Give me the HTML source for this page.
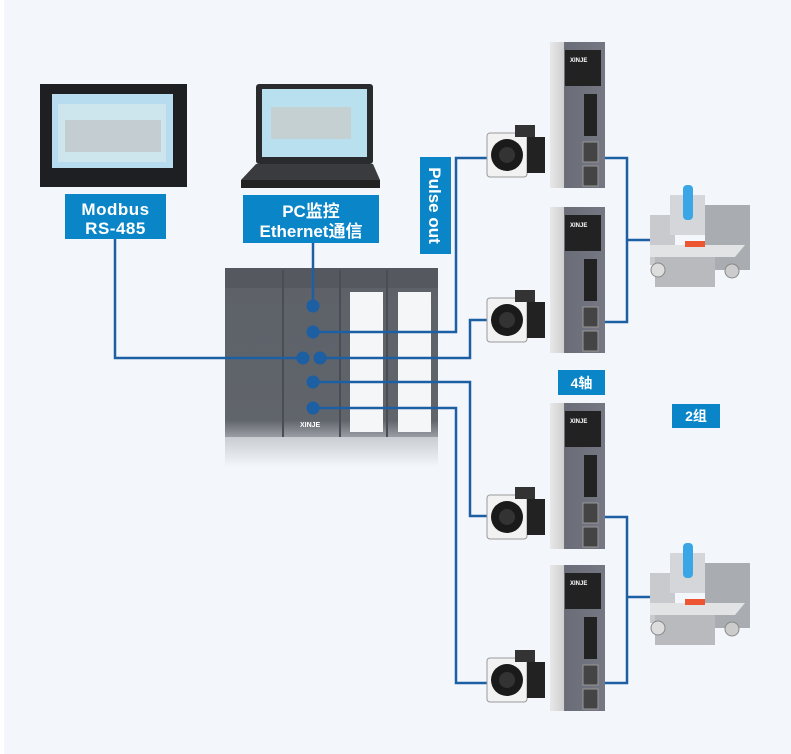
<!DOCTYPE html>
<html><head><meta charset="utf-8"><style>
body{margin:0;background:#fff}
svg{display:block}
text{font-family:"Liberation Sans","Noto Sans CJK SC",sans-serif;font-weight:bold;fill:#fff}
</style></head><body>
<svg width="791" height="754" viewBox="0 0 791 754" xmlns="http://www.w3.org/2000/svg">
<defs>
<linearGradient id="plc" x1="0" y1="0" x2="0" y2="1"><stop offset="0" stop-color="#5d6168"/><stop offset="0.9" stop-color="#60646b"/><stop offset="1" stop-color="#9a9ea4"/></linearGradient>
<linearGradient id="refl" x1="0" y1="0" x2="0" y2="1"><stop offset="0" stop-color="#c9ccd1"/><stop offset="1" stop-color="#f3f7fb"/></linearGradient>
<linearGradient id="drv" x1="0" y1="0" x2="1" y2="0"><stop offset="0" stop-color="#e8e8e8"/><stop offset="0.25" stop-color="#d0d0d0"/><stop offset="0.26" stop-color="#6a6c78"/><stop offset="1" stop-color="#757783"/></linearGradient>
<g id="motor">
<rect x="0" y="8" width="40" height="44" rx="3" fill="#f2f2f2" stroke="#999"/>
<circle cx="20" cy="30" r="16" fill="#1a1a1a"/><circle cx="20" cy="30" r="8" fill="#333"/>
<rect x="40" y="12" width="18" height="36" fill="#222"/>
<rect x="28" y="0" width="20" height="12" fill="#333"/>
</g>
<g id="drive">
<rect x="0" y="0" width="55" height="146" fill="url(#drv)"/>
<rect x="15" y="8" width="36" height="36" fill="#222"/>
<text x="20" y="20" font-size="6">XINJE</text>
<rect x="34" y="52" width="13" height="42" fill="#222"/>
<rect x="33" y="100" width="15" height="20" fill="#444" stroke="#999"/>
<rect x="33" y="124" width="15" height="20" fill="#444" stroke="#999"/>
</g>
<g id="mach">
<rect x="0" y="20" width="25" height="50" fill="#c8cacd"/>
<rect x="55" y="10" width="45" height="65" fill="#a9acb0"/>
<rect x="20" y="0" width="35" height="40" fill="#d4d6d9"/>
<rect x="33" y="-10" width="10" height="35" rx="4" fill="#3aa6e6"/>
<polygon points="0,50 95,50 85,62 0,62" fill="#e1e3e5"/>
<rect x="5" y="62" width="60" height="30" fill="#b8babd"/>
<circle cx="8" cy="75" r="7" fill="#ddd" stroke="#888"/>
<circle cx="82" cy="76" r="7" fill="#ccc" stroke="#888"/>
<rect x="35" y="46" width="20" height="6" fill="#e53"/>
</g>
</defs>
<rect x="0" y="0" width="791" height="754" fill="#f3f7fb"/>
<rect x="0" y="0" width="4" height="754" fill="#fff"/>

<!-- HMI -->
<rect x="40" y="84" width="147" height="103" fill="#1d1f22"/>
<rect x="52" y="94" width="121" height="74" fill="#b7dcef"/>
<rect x="58" y="104" width="108" height="58" fill="#cde6ee"/>
<rect x="65" y="120" width="96" height="32" fill="#c4cdd1"/>
<!-- laptop -->
<rect x="256" y="84" width="117" height="80" rx="3" fill="#2a2b2e"/>
<rect x="262" y="89" width="105" height="68" fill="#b9e0ee"/>
<rect x="271" y="107" width="80" height="32" fill="#c5d0d3"/>
<polygon points="256,164 373,164 380,180 241,180" fill="#3a3b3e"/>
<rect x="241" y="180" width="139" height="8" fill="#222"/>

<!-- PLC -->
<rect x="225" y="268" width="213" height="169" fill="url(#plc)"/>
<rect x="225" y="268" width="213" height="20" fill="#55595f"/>
<rect x="225" y="437" width="213" height="30" fill="url(#refl)"/>
<line x1="283" y1="270" x2="283" y2="437" stroke="#4a4d52" stroke-width="2"/>
<line x1="340" y1="270" x2="340" y2="437" stroke="#4a4d52" stroke-width="2"/>
<line x1="387" y1="270" x2="387" y2="437" stroke="#4a4d52" stroke-width="2"/>
<rect x="350" y="292" width="33" height="140" fill="#f4f6f8"/>
<rect x="398" y="292" width="33" height="140" fill="#f4f6f8"/>
<text x="300" y="427" font-size="7">XINJE</text>

<!-- lines -->
<g stroke="#1c5fa3" stroke-width="2.5" fill="none">
<polyline points="115,238 115,358 303,358"/>
<line x1="313" y1="243" x2="313" y2="306"/>
<polyline points="313,332 456,332 456,158 490,158"/>
<polyline points="320,358 470,358 470,320 490,320"/>
<polyline points="313,382 470,382 470,516 490,516"/>
<polyline points="313,408 456,408 456,683 490,683"/>
<polyline points="605,158 627,158 627,322 605,322"/>
<line x1="627" y1="240" x2="650" y2="240"/>
<polyline points="605,517 627,517 627,683 605,683"/>
<line x1="627" y1="597" x2="650" y2="597"/>
</g>
<g fill="#1c5fa3">
<circle cx="313" cy="306" r="6.5"/><circle cx="313" cy="332" r="6.5"/>
<circle cx="303" cy="358" r="6.5"/><circle cx="320" cy="358" r="6.5"/>
<circle cx="313" cy="382" r="6.5"/><circle cx="313" cy="408" r="6.5"/>
</g>

<!-- drives/motors -->
<use href="#drive" x="550" y="42"/><use href="#drive" x="550" y="207"/>
<use href="#drive" x="550" y="403"/><use href="#drive" x="550" y="565"/>
<use href="#motor" x="487" y="125"/><use href="#motor" x="487" y="290"/>
<use href="#motor" x="487" y="487"/><use href="#motor" x="487" y="650"/>
<use href="#mach" x="650" y="195"/><use href="#mach" x="650" y="553"/>

<!-- labels -->
<rect x="65" y="194" width="101" height="45" fill="#0a86c8"/>
<text x="115.5" y="215" font-size="17" text-anchor="middle" letter-spacing="0.5">Modbus</text>
<text x="115.5" y="234" font-size="17" text-anchor="middle" letter-spacing="0.5">RS-485</text>
<rect x="243" y="195" width="136" height="48" fill="#0a86c8"/>
<text x="311" y="217" font-size="17" text-anchor="middle">PC监控</text>
<text x="311" y="237" font-size="17" text-anchor="middle">Ethernet通信</text>
<rect x="420" y="157" width="31" height="97" fill="#0a86c8"/>
<text x="0" y="0" font-size="17" transform="translate(429,205.5) rotate(90)" text-anchor="middle">Pulse out</text>
<rect x="558" y="370" width="47" height="25" fill="#0a86c8"/>
<text x="581.5" y="388" font-size="14" text-anchor="middle">4轴</text>
<rect x="672" y="404" width="48" height="24" fill="#0a86c8"/>
<text x="696" y="421" font-size="14" text-anchor="middle">2组</text>
</svg>
</body></html>
